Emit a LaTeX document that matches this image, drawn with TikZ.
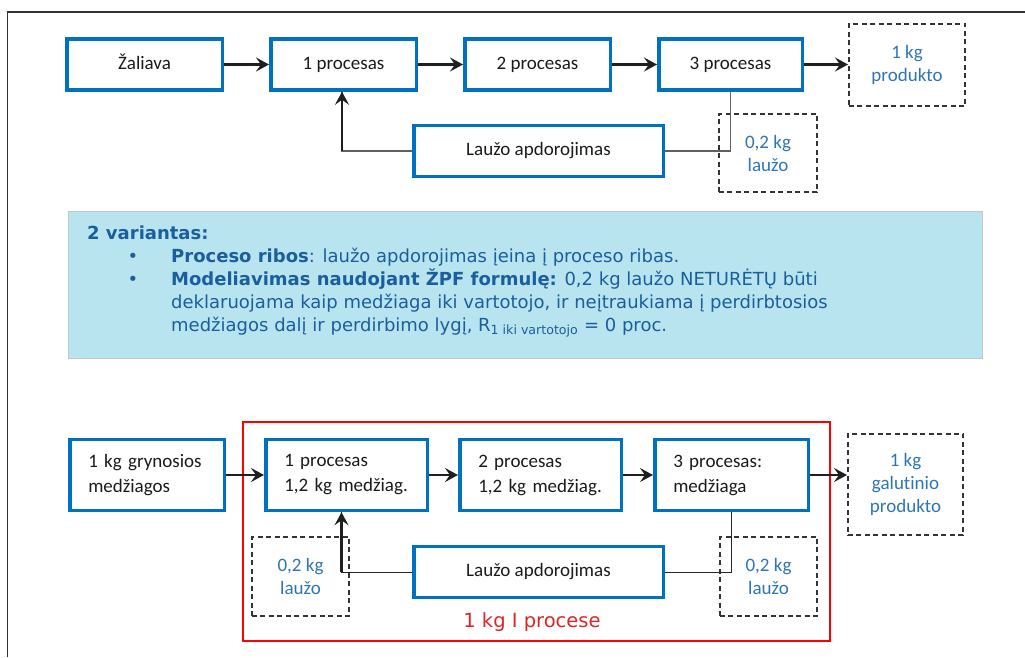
\documentclass[tikz,border=0pt]{standalone}
\usepackage{fontspec}
\setmainfont{Carlito}[Ligatures=NoCommon]
\newfontfamily\notefont{DejaVu Sans}
\usepackage{xcolor}
\usepackage{tikz}
\usetikzlibrary{arrows.meta,positioning,calc}
\definecolor{procblue}{HTML}{0070C0}
\definecolor{massblue}{HTML}{2E75B6}
\definecolor{boxtext}{HTML}{1A1A1A}
\definecolor{notefill}{HTML}{B7E4EE}
\definecolor{noteink}{HTML}{1B5E9E}
\definecolor{frameink}{HTML}{333333}
\definecolor{bounds}{HTML}{FF0000}
\definecolor{boundstext}{HTML}{DC2626}
\tikzset{
  procbox/.style={draw=procblue, line width=3.5pt, minimum height=51pt, text=boxtext, align=center, inner sep=0pt, text height=13pt, text depth=4pt},
  procleft/.style={draw=procblue, line width=3.5pt, minimum height=71pt, text=boxtext, align=left, inner xsep=18.5pt, text width=#1, font=\fontsize{19}{25}\selectfont},
  massbox/.style={draw=frameink, line width=1.6pt, dash pattern=on 5pt off 3.5pt, text=massblue, align=center, inner sep=0pt},
  flowarrow/.style={-{Stealth[length=13pt,width=14pt,inset=5pt]}, line width=2.2pt, draw=black!88},
  backline/.style={line width=1.3pt, draw=black!62},
  backarrow/.style={-{Stealth[length=13pt,width=14pt,inset=5pt]}, line width=1.8pt, draw=black!88},
  notetitle/.style={anchor=base west, inner sep=0pt, text=noteink, font=\notefont\bfseries\fontsize{18}{23}\selectfont},
  noteline/.style={anchor=base west, inner sep=0pt, text=noteink, font=\notefont\fontsize{18}{23}\selectfont},
  notebullet/.style={anchor=base, inner sep=0pt, text=noteink, font=\notefont\fontsize{18}{23}\selectfont},
}

\begin{document}
\begin{tikzpicture}[x=1pt, y=-1pt, font=\fontsize{19}{23}\selectfont]
  \useasboundingbox (0,0) rectangle (1025,657);
  \draw[frameink, line width=1.5pt] (7.5,657) |- (1025,12);

  % Variant flow (top)
  \node[procbox, minimum width=155.5pt] (zal) at (144.5,64.5) {Žaliava};
  \node[procbox, minimum width=145.5pt, right=45pt of zal] (p1) {1 procesas};
  \node[procbox, minimum width=145.5pt, right=45pt of p1] (p2) {2 procesas};
  \node[procbox, minimum width=143.5pt, right=45pt of p2] (p3) {3 procesas};
  \node[massbox, minimum width=116.4pt, minimum height=82.4pt] (prod) at (907,65) {1 kg\\produkto};
  \node[procbox, minimum width=249.5pt] (lauzo) at (538.5,151) {Laužo apdorojimas};
  \node[massbox, minimum width=98.4pt, minimum height=78.4pt] (scrap) at (768,153) {0,2 kg\\laužo};

  \draw[flowarrow] (zal) -- (p1);
  \draw[flowarrow] (p1) -- (p2);
  \draw[flowarrow] (p2) -- (p3);
  \draw[flowarrow] (p3.east) -- (p3.east -| prod.west);
  \draw[backline] (p3.south) |- (lauzo.east);
  \draw[backline] (lauzo.west) -| coordinate (turn) ([xshift=-1.5pt]p1.south);
  \draw[backarrow] (turn) -- ([xshift=-1.5pt]p1.south);

  % Note
  \draw[fill=notefill, draw=black!22, line width=1pt] (68,211) rectangle (982,358);
  \node[notetitle] (ntitle) at (87,239) {2 variantas:};
  \node[notebullet] (dot1) at (133,262) {•};
  \node[noteline] (line1) at (171,262) {\textbf{Proceso ribos}: laužo apdorojimas įeina į proceso ribas.};
  \node[notebullet] (dot2) at (133,285) {•};
  \node[noteline] (line2) at (171,285) {\textbf{Modeliavimas naudojant ŽPF formulę:} 0,2 kg laužo NETURĖTŲ būti};
  \node[noteline] (line3) at (171,308) {deklaruojama kaip medžiaga iki vartotojo, ir neįtraukiama į perdirbtosios};
  \node[noteline] (line4) at (171,331) {medžiagos dalį ir perdirbimo lygį, R\textsubscript{1 iki vartotojo} = 0 proc.};

  % Variant flow (bottom)
  \draw[bounds, line width=2.6pt] (243,422) rectangle (830,641);
  \node[procleft=117.5pt] (raw) at (147,475) {1 kg grynosios\\medžiagos};
  \node[procleft=124.5pt, right=38pt of raw] (q1) {1 procesas\\1,2 kg medžiag.};
  \node[procleft=124.5pt, right=29pt of q1] (q2) {2 procesas\\1,2 kg medžiag.};
  \node[procleft=116.5pt, right=30pt of q2] (q3) {3 procesas:\\medžiaga};
  \node[massbox, minimum width=115.4pt, minimum height=101.4pt] (final) at (905.5,484.5) {1 kg\\galutinio\\produkto};
  \node[procbox, minimum width=249.5pt] (lauzo2) at (538.5,572) {Laužo apdorojimas};
  \node[massbox, minimum width=97.4pt, minimum height=79.4pt] (scrapL) at (300.5,576.5) {0,2 kg\\laužo};
  \node[massbox, minimum width=97.4pt, minimum height=79.4pt] (scrapR) at (768.5,576.5) {0,2 kg\\laužo};
  \node[anchor=base, inner sep=0pt, text=boundstext, font=\notefont\fontsize{19.5}{23}\selectfont] (inproc) at (532,627) {1 kg I procese};

  \draw[flowarrow] (raw.east) -- (q1.west);
  \draw[flowarrow] (q1) -- (q2);
  \draw[flowarrow] (q2) -- (q3);
  \draw[flowarrow] (q3.east) -- (q3.east -| final.west);
  \draw[backline, draw=black!85, line width=1pt] (q3.south) |- (lauzo2.east);
  \draw[backline, draw=black!85, line width=1pt] (lauzo2.west) -| coordinate (turn2) ([xshift=-5pt]q1.south);
  \draw[backarrow, line width=2.2pt] (turn2) -- ([xshift=-5pt]q1.south);
\end{tikzpicture}
\end{document}
